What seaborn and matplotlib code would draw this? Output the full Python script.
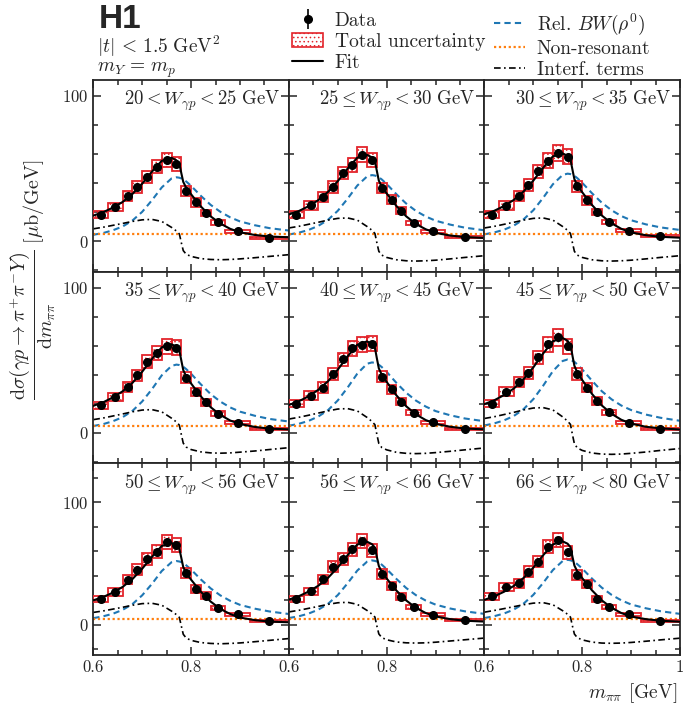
import numpy as np
import pandas as pd
import matplotlib
matplotlib.use("Agg")
import matplotlib.pyplot as plt
import seaborn as sns
from matplotlib.ticker import MultipleLocator, FixedLocator, FixedFormatter
from matplotlib.patches import Patch
from matplotlib.lines import Line2D

# W bins (one panel each)
w_labels = [
    r"$20 < W_{\gamma p} < 25\ \mathrm{GeV}$",
    r"$25 \leq W_{\gamma p} < 30\ \mathrm{GeV}$",
    r"$30 \leq W_{\gamma p} < 35\ \mathrm{GeV}$",
    r"$35 \leq W_{\gamma p} < 40\ \mathrm{GeV}$",
    r"$40 \leq W_{\gamma p} < 45\ \mathrm{GeV}$",
    r"$45 \leq W_{\gamma p} < 50\ \mathrm{GeV}$",
    r"$50 \leq W_{\gamma p} < 56\ \mathrm{GeV}$",
    r"$56 \leq W_{\gamma p} < 66\ \mathrm{GeV}$",
    r"$66 \leq W_{\gamma p} < 80\ \mathrm{GeV}$",
]

# m_pipi bins of the measurement
m_edges = [0.60, 0.63, 0.66, 0.68, 0.70, 0.72, 0.74, 0.76, 0.78, 0.80, 0.82, 0.84, 0.87, 0.92, 1.00]

# measured cross sections [mub/GeV], one list per panel
xsec = [
    [18.3, 23.5, 31.3, 37.3, 44.1, 51.4, 56.0, 53.0, 34.7, 26.7, 19.4, 13.0, 6.9, 2.1],
    [18.3, 24.7, 30.4, 37.3, 46.9, 52.6, 59.4, 56.0, 36.6, 28.6, 21.0, 12.6, 6.9, 3.0],
    [18.3, 24.5, 30.9, 38.6, 48.0, 55.5, 60.6, 58.3, 37.7, 28.1, 20.1, 13.3, 7.3, 3.4],
    [19.0, 24.8, 31.7, 39.5, 49.0, 54.8, 59.5, 58.6, 38.1, 28.1, 21.0, 13.3, 7.1, 2.6],
    [20.2, 25.5, 31.2, 40.7, 50.7, 58.3, 60.7, 61.4, 38.8, 30.0, 21.4, 13.8, 7.4, 2.6],
    [20.2, 28.3, 35.0, 41.4, 51.9, 61.0, 65.7, 59.5, 40.5, 31.0, 21.9, 14.3, 7.1, 2.6],
    [21.0, 26.7, 36.7, 44.9, 53.6, 59.6, 67.8, 65.0, 41.9, 29.1, 23.7, 13.6, 8.2, 2.7],
    [20.9, 27.1, 37.1, 47.2, 53.4, 61.5, 68.3, 61.0, 41.2, 31.4, 22.8, 14.6, 8.1, 3.3],
    [23.0, 30.6, 33.9, 43.4, 51.5, 63.7, 69.1, 59.1, 40.6, 33.3, 21.1, 14.4, 8.4, 3.0],
]

# statistical errors (error bars on the points)
stat_err = [0.8, 1.0, 1.2, 1.4, 1.5, 1.7, 1.8, 1.8, 1.4, 1.2, 1.0, 0.7, 0.5, 0.4]

# total uncertainty (half height of the boxes)
tot_unc = [
    [2.2, 2.8, 3.4, 3.8, 4.2, 4.6, 5.0, 4.8, 3.6, 2.9, 2.3, 1.6, 1.1, 0.8],
    [2.2, 2.9, 3.4, 3.9, 4.4, 4.8, 5.2, 5.0, 3.7, 3.0, 2.4, 1.6, 1.1, 0.8],
    [2.2, 2.9, 3.4, 4.0, 4.5, 5.0, 5.3, 5.1, 3.8, 3.0, 2.4, 1.6, 1.1, 0.8],
    [2.3, 2.9, 3.5, 4.0, 4.5, 4.9, 5.2, 5.1, 3.8, 3.0, 2.4, 1.6, 1.1, 0.8],
    [2.3, 3.0, 3.5, 4.1, 4.6, 5.1, 5.3, 5.3, 3.9, 3.1, 2.5, 1.7, 1.1, 0.8],
    [2.3, 3.1, 3.7, 4.2, 4.7, 5.3, 5.6, 5.2, 4.0, 3.2, 2.5, 1.7, 1.1, 0.8],
    [2.4, 3.0, 3.8, 4.4, 4.8, 5.2, 5.7, 5.5, 4.1, 3.1, 2.6, 1.7, 1.2, 0.8],
    [2.4, 3.0, 3.8, 4.5, 4.8, 5.3, 5.7, 5.3, 4.1, 3.2, 2.6, 1.7, 1.2, 0.8],
    [2.6, 3.3, 3.6, 4.3, 4.7, 5.4, 5.8, 5.2, 4.0, 3.4, 2.4, 1.7, 1.2, 0.8],
]

m_curve = [0.60, 0.62, 0.64, 0.66, 0.68, 0.70, 0.72, 0.74, 0.76, 0.77, 0.776, 0.78,
           0.784, 0.79, 0.80, 0.82, 0.84, 0.86, 0.88, 0.90, 0.93, 0.96, 1.00]

fit = [
    [17.6, 19.9, 23.1, 27.0, 32.5, 39.6, 47.9, 55.3, 57.4, 55.7, 53.4, 46.9, 40.8, 36.8, 32.3, 23.9, 17.1, 12.1, 8.5, 6.1, 4.3, 3.2, 2.7],
    [18.4, 20.7, 24.0, 28.2, 33.9, 41.3, 49.9, 57.5, 59.4, 57.7, 55.2, 48.3, 41.7, 37.6, 32.9, 24.2, 17.1, 11.8, 8.2, 5.7, 3.9, 2.8, 2.2],
    [18.5, 20.9, 24.2, 28.4, 34.2, 41.7, 50.5, 58.4, 60.4, 58.7, 56.2, 49.3, 42.7, 38.5, 33.7, 24.9, 17.7, 12.3, 8.5, 6.0, 4.1, 3.0, 2.4],
    [18.6, 21.0, 24.4, 28.6, 34.4, 42.1, 50.9, 58.9, 61.0, 59.3, 56.8, 49.9, 43.2, 38.9, 34.0, 25.1, 17.7, 12.3, 8.5, 6.1, 4.1, 2.9, 2.4],
    [19.2, 21.7, 25.1, 29.6, 35.5, 43.5, 52.6, 60.7, 63.0, 61.1, 58.6, 51.3, 44.4, 40.0, 35.1, 25.8, 18.3, 12.7, 8.8, 6.2, 4.2, 3.0, 2.4],
    [19.8, 22.4, 26.0, 30.5, 36.9, 45.1, 54.6, 63.1, 65.3, 63.4, 60.7, 53.2, 46.2, 41.5, 36.4, 26.8, 18.9, 13.1, 9.0, 6.4, 4.2, 3.1, 2.3],
    [19.8, 22.5, 26.1, 30.8, 37.2, 45.7, 55.4, 64.3, 66.7, 64.8, 62.1, 54.6, 47.0, 42.1, 36.7, 26.8, 18.8, 12.7, 8.6, 5.7, 3.6, 2.4, 1.8],
    [20.4, 23.1, 26.9, 31.7, 38.2, 46.7, 56.7, 65.5, 67.8, 65.8, 63.0, 55.2, 47.9, 43.1, 37.7, 27.8, 19.7, 13.6, 9.4, 6.6, 4.4, 3.1, 2.4],
    [20.2, 23.1, 26.8, 31.6, 38.1, 46.6, 56.7, 65.6, 68.1, 66.2, 63.4, 55.6, 48.3, 43.4, 38.0, 28.0, 19.8, 13.7, 9.4, 6.5, 4.4, 3.1, 2.3],
]

rel_bw = [
    [4.4, 5.6, 7.5, 10.1, 14.2, 20.2, 28.2, 37.0, 43.2, 44.0, 43.7, 43.2, 42.6, 41.1, 38.1, 31.2, 25.0, 20.2, 16.4, 13.6, 11.0, 9.0, 7.3],
    [4.6, 5.8, 7.7, 10.5, 14.7, 20.9, 29.2, 38.3, 44.6, 45.5, 45.2, 44.7, 44.0, 42.5, 39.4, 32.3, 25.9, 20.8, 17.0, 14.1, 11.4, 9.3, 7.5],
    [4.7, 6.0, 7.9, 10.7, 15.0, 21.3, 29.8, 39.2, 45.6, 46.5, 46.2, 45.7, 45.0, 43.4, 40.2, 33.0, 26.5, 21.3, 17.3, 14.4, 11.6, 9.5, 7.7],
    [4.7, 6.0, 8.0, 10.8, 15.1, 21.6, 30.1, 39.6, 46.1, 47.0, 46.7, 46.2, 45.5, 43.9, 40.7, 33.4, 26.7, 21.5, 17.5, 14.6, 11.8, 9.6, 7.8],
    [4.9, 6.2, 8.2, 11.2, 15.6, 22.3, 31.1, 40.8, 47.6, 48.5, 48.2, 47.6, 46.9, 45.3, 42.0, 34.4, 27.6, 22.2, 18.1, 15.0, 12.1, 9.9, 8.0],
    [5.1, 6.5, 8.6, 11.6, 16.3, 23.2, 32.4, 42.5, 49.5, 50.5, 50.1, 49.6, 48.9, 47.1, 43.7, 35.9, 28.7, 23.1, 18.8, 15.7, 12.6, 10.4, 8.3],
    [5.2, 6.7, 8.8, 12.0, 16.7, 23.9, 33.3, 43.8, 51.0, 52.0, 51.6, 51.1, 50.3, 48.5, 45.0, 36.9, 29.6, 23.8, 19.4, 16.1, 13.0, 10.7, 8.6],
    [5.3, 6.7, 8.9, 12.1, 16.9, 24.1, 33.7, 44.2, 51.5, 52.5, 52.1, 51.6, 50.8, 49.0, 45.4, 37.3, 29.9, 24.0, 19.6, 16.3, 13.1, 10.8, 8.7],
    [5.3, 6.8, 9.0, 12.2, 17.1, 24.3, 34.0, 44.6, 52.0, 53.0, 52.6, 52.0, 51.3, 49.4, 45.8, 37.6, 30.2, 24.3, 19.8, 16.4, 13.3, 10.9, 8.7],
]

interf = [
    [8.5, 9.6, 10.9, 12.2, 13.6, 14.7, 15.0, 13.6, 9.5, 7.0, 5.0, -1.0, -6.5, -9.0, -10.5, -12.0, -12.6, -12.8, -12.6, -12.2, -11.4, -10.5, -9.3],
    [9.1, 10.2, 11.6, 13.0, 14.5, 15.7, 16.0, 14.5, 10.1, 7.5, 5.3, -1.1, -7.0, -9.6, -11.2, -12.8, -13.5, -13.7, -13.5, -13.1, -12.2, -11.2, -10.0],
    [9.1, 10.2, 11.6, 13.0, 14.5, 15.7, 16.0, 14.5, 10.1, 7.5, 5.3, -1.1, -7.0, -9.6, -11.2, -12.8, -13.5, -13.7, -13.5, -13.1, -12.2, -11.2, -10.0],
    [9.1, 10.2, 11.6, 13.0, 14.5, 15.7, 16.0, 14.5, 10.1, 7.5, 5.3, -1.1, -7.1, -9.8, -11.5, -13.1, -13.8, -14.0, -13.8, -13.3, -12.5, -11.5, -10.2],
    [9.5, 10.7, 12.1, 13.6, 15.1, 16.4, 16.7, 15.1, 10.6, 7.8, 5.6, -1.1, -7.3, -10.1, -11.7, -13.4, -14.1, -14.3, -14.1, -13.6, -12.7, -11.7, -10.4],
    [9.9, 11.1, 12.6, 14.1, 15.8, 17.1, 17.4, 15.8, 11.0, 8.1, 5.8, -1.2, -7.5, -10.4, -12.1, -13.9, -14.6, -14.8, -14.6, -14.1, -13.2, -12.1, -10.8],
    [9.9, 11.1, 12.6, 14.1, 15.8, 17.1, 17.4, 15.8, 11.0, 8.1, 5.8, -1.2, -8.0, -11.1, -13.0, -14.8, -15.5, -15.8, -15.5, -15.1, -14.1, -13.0, -11.5],
    [10.3, 11.6, 13.2, 14.8, 16.5, 17.8, 18.2, 16.5, 11.5, 8.5, 6.1, -1.2, -7.7, -10.7, -12.5, -14.3, -15.0, -15.2, -15.0, -14.5, -13.5, -12.5, -11.1],
    [10.1, 11.5, 13.0, 14.6, 16.2, 17.5, 17.9, 16.2, 11.3, 8.4, 6.0, -1.2, -7.8, -10.8, -12.6, -14.4, -15.2, -15.4, -15.2, -14.7, -13.7, -12.6, -11.2],
]

# non-resonant term, flat over the range
nonres = [4.7, 4.7, 4.7, 4.8, 4.8, 4.8, 4.7, 4.8, 4.8]
nonres_m = [0.60, 1.00]

row_ylim = [(-21, 111), (-21, 111), (-25, 132)]

# style
sns.set_theme(style="ticks")
plt.rcParams.update({
    "font.family": "serif",
    "font.serif": ["cmr10", "DejaVu Serif"],
    "mathtext.fontset": "cm",
    "axes.formatter.use_mathtext": True,
    "axes.linewidth": 1.3,
    "hatch.linewidth": 0.6,
})

RED = "#e3242b"
BLUE = "#1f77b4"
ORANGE = "#ff7f0e"
ls_bw = (0, (3.0, 2.0))
ls_nr = (0, (1.0, 1.2))
ls_int = (0, (4.0, 2.0, 1.0, 2.0))

edges = np.array(m_edges)
centers = (edges[:-1] + edges[1:]) / 2
widths = np.diff(edges)

fig = plt.figure(figsize=(6.85, 7.06), dpi=100)
gs = fig.add_gridspec(3, 3, left=0.1362, right=0.9927, bottom=0.0722, top=0.8867,
                      hspace=0, wspace=0)
axes = gs.subplots()

h_data = None
for k, ax in enumerate(axes.flat):
    row, col = divmod(k, 3)
    curves = pd.DataFrame({"m": m_curve, "fit": fit[k], "bw": rel_bw[k], "interf": interf[k]})
    vals = np.array(xsec[k])
    unc = np.array(tot_unc[k])

    sns.lineplot(data=curves, x="m", y="bw", ax=ax, color=BLUE, linestyle=ls_bw,
                 lw=1.5, sort=False, estimator=None, zorder=2)
    sns.lineplot(x=nonres_m, y=[nonres[k]] * 2, ax=ax, color=ORANGE, linestyle=ls_nr,
                 lw=1.6, sort=False, estimator=None, zorder=2)
    sns.lineplot(data=curves, x="m", y="interf", ax=ax, color="black", linestyle=ls_int,
                 lw=1.2, sort=False, estimator=None, zorder=2)

    # total uncertainty boxes
    ax.bar(centers, 2 * unc, width=widths, bottom=vals - unc, facecolor="none",
           edgecolor=RED, hatch="....", lw=1.3, zorder=3)

    sns.lineplot(data=curves, x="m", y="fit", ax=ax, color="black", lw=1.5,
                 sort=False, estimator=None, zorder=4)

    h = ax.errorbar(centers, vals, yerr=stat_err, fmt="o", color="black", ms=5.5,
                    elinewidth=1.2, capsize=0, zorder=5)
    if h_data is None:
        h_data = h

    ax.text(0.955, 0.955, w_labels[k], transform=ax.transAxes, ha="right", va="top",
            fontsize=13.5)

    ax.set_xlim(0.6, 1.0)
    ax.set_ylim(*row_ylim[row])
    ax.set_xlabel("")
    ax.set_ylabel("")

    ax.xaxis.set_major_locator(FixedLocator([0.6, 0.8, 1.0]))
    ax.xaxis.set_minor_locator(MultipleLocator(0.05))
    if col == 2:
        ax.xaxis.set_major_formatter(FixedFormatter(["0.6", "0.8", "1"]))
    else:
        ax.xaxis.set_major_formatter(FixedFormatter(["0.6", "0.8", ""]))
    ax.yaxis.set_major_locator(MultipleLocator(100))
    ax.yaxis.set_minor_locator(MultipleLocator(20))

    ax.tick_params(which="both", direction="in", top=True, right=True,
                   labelsize=12, width=1.1)
    ax.tick_params(which="major", length=6)
    ax.tick_params(which="minor", length=3.5)
    if col > 0:
        ax.tick_params(labelleft=False)
    if row < 2:
        ax.tick_params(labelbottom=False)
    ax.legend_ = None

# axis titles
fig.text(0.048, 1 - 280 / 706,
         r"$\dfrac{\mathrm{d}\sigma(\gamma p \rightarrow \pi^{+}\pi^{-}Y)}{\mathrm{d}m_{\pi\pi}}\ [\mu\mathrm{b/GeV}]$",
         rotation=90, ha="center", va="center", fontsize=14.5)
fig.text(677 / 685, 1 - 693 / 706, r"$m_{\pi\pi}$ [GeV]", ha="right", va="center",
         fontsize=14)

# experiment label and selection
fig.text(99 / 685, 1 - 4 / 706, "H1", fontsize=24, fontweight="bold",
         family="Liberation Sans", ha="left", va="top")
fig.text(97 / 685, 1 - 46 / 706, r"$|t|\, <\, 1.5\ \mathrm{GeV}^2$", fontsize=14,
         ha="left", va="center")
fig.text(97 / 685, 1 - 70 / 706, r"$m_Y\, =\, m_p$", fontsize=14, ha="left", va="center")

# legends
h_unc = Patch(facecolor="white", edgecolor=RED, hatch="....", lw=1.2)
h_fit = Line2D([], [], color="black", lw=1.5)
fig.legend([h_data, h_unc, h_fit], ["Data", "Total uncertainty", "Fit"],
           loc="upper left", bbox_to_anchor=(292 / 685, 1 - 12 / 706), frameon=False,
           fontsize=14, handlelength=1.6, handletextpad=0.6, labelspacing=0.15,
           borderpad=0, borderaxespad=0)
h_bw = Line2D([], [], color=BLUE, linestyle=ls_bw, lw=1.5)
h_nr = Line2D([], [], color=ORANGE, linestyle=ls_nr, lw=1.6)
h_int = Line2D([], [], color="black", linestyle=ls_int, lw=1.2)
fig.legend([h_bw, h_nr, h_int], [r"Rel. $BW(\rho^0)$", "Non-resonant", "Interf. terms"],
           loc="upper left", bbox_to_anchor=(494 / 685, 1 - 12 / 706), frameon=False,
           fontsize=14, handlelength=1.6, handletextpad=0.6, labelspacing=0.15,
           borderpad=0, borderaxespad=0)

fig.savefig("out.png", dpi=100)
